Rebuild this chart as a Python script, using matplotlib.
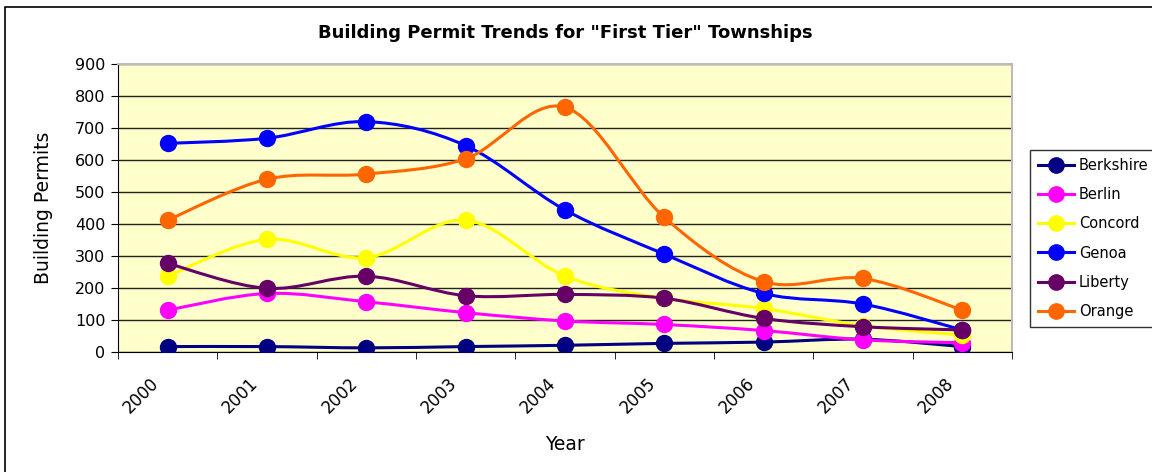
import numpy as np
import matplotlib.pyplot as plt
from matplotlib.path import Path
from matplotlib.patches import PathPatch, Rectangle
from matplotlib.lines import Line2D

years = ['2000', '2001', '2002', '2003', '2004', '2005', '2006', '2007', '2008']
berkshire = [17, 17, 13, 17, 21, 27, 31, 40, 17]
berlin = [131, 183, 157, 123, 97, 86, 67, 38, 29]
concord = [237, 352, 295, 412, 237, 168, 136, 82, 53]
genoa = [652, 668, 720, 645, 444, 306, 183, 150, 69]
liberty = [277, 199, 237, 176, 180, 168, 105, 79, 69]
orange = [412, 540, 556, 604, 765, 421, 220, 230, 131]

names = ['Berkshire', 'Berlin', 'Concord', 'Genoa', 'Liberty', 'Orange']
series = [berkshire, berlin, concord, genoa, liberty, orange]
colors = ['#000080', '#FF00FF', '#FFFF00', '#0000FF', '#660066', '#FF6600']


def smooth_path(xs, ys):
    # bezier through the points, like excel's "smoothed line"
    p = np.column_stack([xs, ys]).astype(float)
    ext = np.vstack([p[0], p, p[-1]])
    verts = [p[0]]
    codes = [Path.MOVETO]
    for i in range(len(p) - 1):
        p0, p1, p2, p3 = ext[i], ext[i + 1], ext[i + 2], ext[i + 3]
        c1 = p1 + (p2 - p0) / 6
        c2 = p2 - (p3 - p1) / 6
        verts += [c1, c2, p2]
        codes += [Path.CURVE4] * 3
    return Path(verts, codes)


fig = plt.figure(figsize=(11.52, 4.72), dpi=100)
ax = fig.add_axes([0.1024, 0.2542, 0.776, 0.6102])
ax.set_facecolor('#FFFFCC')

x = np.arange(len(years))
for k, (name, vals, c) in enumerate(zip(names, series, colors)):
    patch = PathPatch(smooth_path(x, vals), facecolor='none', edgecolor=c,
                      lw=2.2, zorder=3 + 2 * k)
    ax.add_patch(patch)
    ax.plot(x, vals, 'o', color=c, ms=11.5, zorder=4 + 2 * k)

ax.set_xlim(-0.5, len(years) - 0.5)
ax.set_ylim(0, 900)
ax.set_yticks(range(0, 901, 100))
# label anchors sit a bit left of the category centre (excel style rotated labels)
ax.set_xticks(x - 0.18)
ax.set_xticklabels(years, rotation=45, ha='right', va='top',
                   rotation_mode='anchor', fontsize=12)
ax.set_xticks(np.arange(-0.5, len(years)), minor=True)
ax.tick_params(axis='x', which='major', length=0, pad=16)
ax.tick_params(axis='x', which='minor', length=5, direction='out')
ax.tick_params(axis='y', length=5, direction='out', labelsize=11.5, pad=4)
ax.grid(axis='y', color='#222222', lw=1)
ax.set_axisbelow(True)
for s in ['top', 'right']:
    ax.spines[s].set_color('#BBBBBB')
    ax.spines[s].set_linewidth(1.5)
for s in ['left', 'bottom']:
    ax.spines[s].set_color('black')

ax.set_title('Building Permit Trends for "First Tier" Townships',
             fontsize=13, fontweight='bold', pad=19)
ax.set_ylabel('Building Permits', fontsize=13.5, labelpad=16)
ax.set_xlabel('Year', fontsize=13.5, labelpad=13)

handles = [Line2D([0], [0], color=c, lw=2.2, marker='o', ms=11) for c in colors]
leg = fig.legend(handles, names, loc='upper left', bbox_to_anchor=(0.894, 0.682),
                 fontsize=10.5, frameon=True, fancybox=False, edgecolor='black',
                 handlelength=2.5, labelspacing=0.97, borderpad=0.55,
                 handletextpad=0.3, borderaxespad=0)
leg.get_frame().set_linewidth(1)

# outer chart border
fig.patches.append(Rectangle((5 / 1152, -0.05), 1.2, 1 - 7 / 472 + 0.05,
                             transform=fig.transFigure, fill=False,
                             edgecolor='black', lw=1.2))

fig.savefig('out.png', dpi=100)
